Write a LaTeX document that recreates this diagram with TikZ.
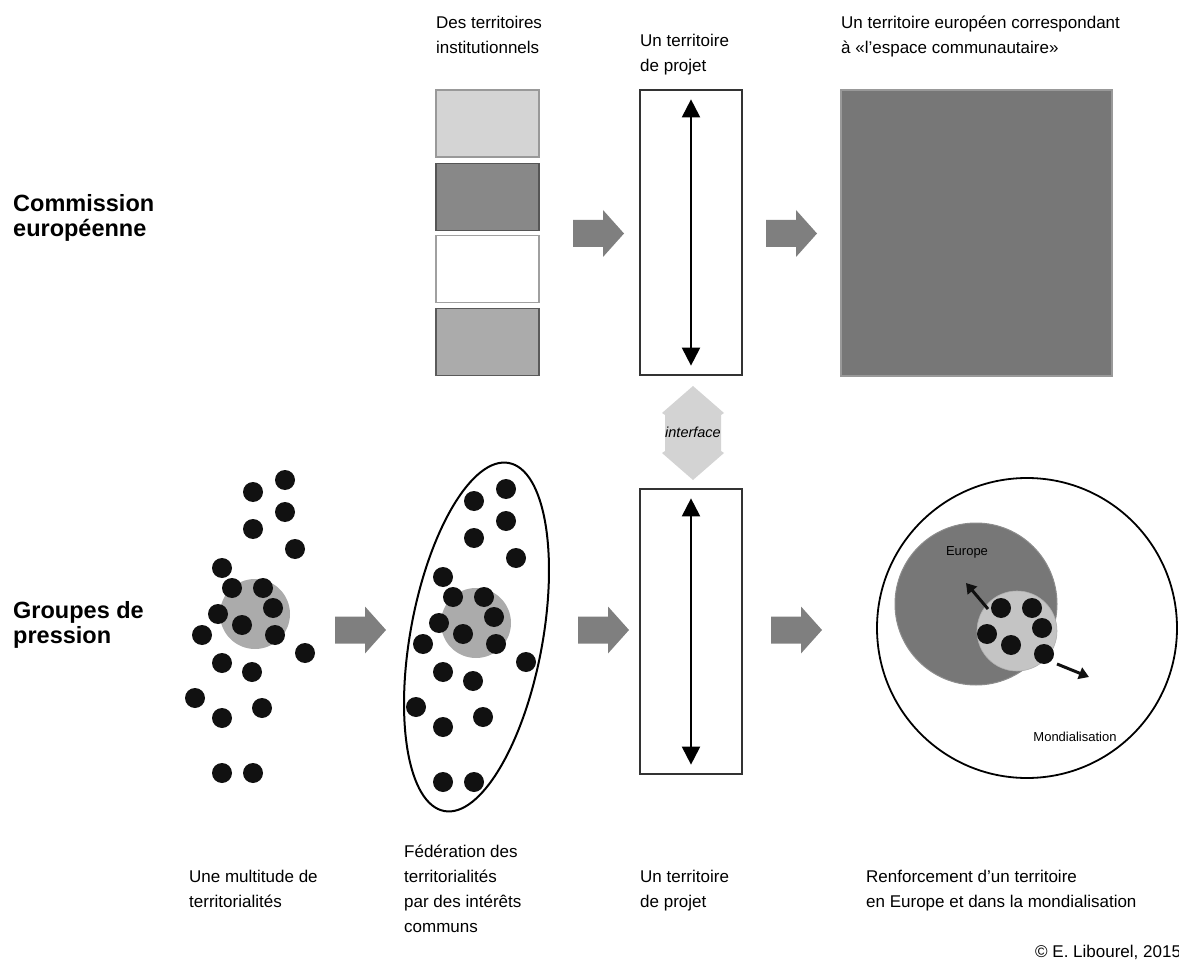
\documentclass[tikz,border=0pt]{standalone}
\usepackage{fontspec}
\setmainfont{Liberation Sans}
\usetikzlibrary{arrows.meta}
\definecolor{boxA}{HTML}{D4D4D4}
\definecolor{boxAd}{HTML}{999999}
\definecolor{boxB}{HTML}{888888}
\definecolor{boxBd}{HTML}{555555}
\definecolor{boxCd}{HTML}{A0A0A0}
\definecolor{boxD}{HTML}{ABABAB}
\definecolor{boxDd}{HTML}{5A5A5A}
\definecolor{bigsq}{HTML}{777777}
\definecolor{bigsqd}{HTML}{999999}
\definecolor{arrowgray}{HTML}{7F7F7F}
\definecolor{ifacegray}{HTML}{D3D3D3}
\definecolor{dotc}{HTML}{111111}
\definecolor{clustergray}{HTML}{ABABAB}
\definecolor{europegray}{HTML}{777777}
\definecolor{europeborder}{HTML}{8C8C8C}
\definecolor{lightgray2}{HTML}{C4C4C4}
\newcommand\mlines[1]{\begin{tabular}[t]{@{}l@{}}#1\end{tabular}}
\begin{document}
\begin{tikzpicture}[x=1pt,y=-1pt,
  txt/.style={anchor=base west, inner sep=0pt, font=\fontsize{17}{25}\selectfont},
  headlbl/.style={anchor=base west, inner sep=0pt, font=\fontsize{23.5}{25}\selectfont\bfseries},
  smalllbl/.style={inner sep=0pt, font=\fontsize{13}{15}\selectfont},
  instbox/.style={rectangle, minimum width=103pt, minimum height=67pt, inner sep=0pt, line width=1.3pt},
  projbox/.style={rectangle, draw=black!80, line width=1.3pt, fill=white, minimum width=102pt, minimum height=285pt, inner sep=0pt},
  projarrow/.style={line width=2pt, {Triangle[width=18pt,length=18pt]}-{Triangle[width=18pt,length=18pt]}},
  dotstyle/.style={fill=dotc},
  smallarrow/.style={line width=3pt, -{Triangle[width=12pt,length=10pt]}, dotc},
  barrow/.pic={\fill[arrowgray] (0,-13.5) -- (30,-13.5) -- (30,-23.5) -- (51,0) -- (30,23.5) -- (30,13.5) -- (0,13.5) -- cycle;}
]
\useasboundingbox (0,0) rectangle (1179,960);

% ---------- row labels ----------
\node[headlbl] (lblC) at (13,212) {\mlines{Commission\\européenne}};
\node[headlbl] (lblG) at (13,618) {\mlines{Groupes de\\pression}};

% ---------- top texts ----------
\node[txt] (tInst) at (436,29) {\mlines{Des territoires\\institutionnels}};
\node[txt] (tProjT) at (640,47) {\mlines{Un territoire\\de projet}};
\node[txt] (tEur) at (841,29) {\mlines{Un territoire européen correspondant\\à «l’espace communautaire»}};

% ---------- institutional boxes ----------
\node[instbox, fill=boxA, draw=boxAd] (b1) at (487.5,123.5) {};
\node[instbox, fill=boxB, draw=boxBd] (b2) at (487.5,197) {};
\node[instbox, fill=white, draw=boxCd] (b3) at (487.5,269) {};
\node[instbox, fill=boxD, draw=boxDd] (b4) at (487.5,342) {};

% ---------- project rectangles ----------
\node[projbox] (projT) at (691,232.5) {};
\draw[projarrow] ([yshift=-10pt]projT.north) -- ([yshift=10pt]projT.south);
\node[projbox] (projB) at (691,631.5) {};
\draw[projarrow] ([yshift=-10pt]projB.north) -- ([yshift=10pt]projB.south);

% ---------- european square ----------
\node[rectangle, fill=bigsq, draw=bigsqd, line width=1.3pt, minimum width=271pt, minimum height=286pt, inner sep=0pt] (sq) at (976.5,233) {};

% ---------- block arrows ----------
\pic at (573,233.5) {barrow};
\pic at (766,233.5) {barrow};
\pic at (335,630) {barrow};
\pic at (578,630) {barrow};
\pic at (771,630) {barrow};

% ---------- interface ----------
\fill[ifacegray] (693,386) -- (724,413) -- (721,415) -- (721,451) -- (724,453) -- (693,480)
  -- (662,453) -- (665,451) -- (665,415) -- (662,413) -- cycle;
\node[smalllbl, font=\fontsize{14.5}{17}\selectfont\itshape] (iface) at (693,432) {interface};

% ---------- clusters ----------
\def\dotlist{253/492, 285/480, 285/512, 253/529, 295/549, 222/568, 232/588, 263/588,
  273/608, 218/614, 242/625, 275/635, 202/635, 305/653, 222/663, 252/672, 195/698,
  262/708, 222/718, 222/773, 253/773}
\fill[clustergray] (255,614) circle[radius=35];
\foreach \px/\py in \dotlist { \fill[dotstyle] (\px,\py) circle[radius=10]; }

\begin{scope}[shift={(221,9)}]
\fill[clustergray] (255,614) circle[radius=35];
\foreach \px/\py in \dotlist { \fill[dotstyle] (\px,\py) circle[radius=10]; }
\end{scope}
\begin{scope}[shift={(476.5,637)}, rotate=-10.5]
\draw[line width=2pt] (0,0) ellipse[x radius=66, y radius=177];
\end{scope}

% ---------- Europe / Mondialisation ----------
\draw[line width=1.8pt] (1027,628) circle[radius=150];
\filldraw[fill=europegray, draw=europeborder, line width=1pt] (976,604) circle[radius=81];
\filldraw[fill=lightgray2, draw=lightgray2!90!black, line width=0.6pt] (1017,631) circle[radius=40];
\foreach \px/\py in {1001/608, 1032/608, 1042/628, 987/634, 1011/645, 1044/654}
  { \fill[dotstyle] (\px,\py) circle[radius=10]; }
\coordinate (a1s) at (988,609);
\coordinate (a1e) at (966,583);
\coordinate (a2s) at (1057,664);
\coordinate (a2e) at (1089,677);
\draw[smallarrow] (a1s) -- (a1e);
\draw[smallarrow] (a2s) -- (a2e);
\node[smalllbl] (lEurope) at (967,552) {Europe};
\node[smalllbl] (lMond) at (1075,737) {Mondialisation};

% ---------- bottom texts ----------
\node[txt] (tMult) at (189,882) {\mlines{Une multitude de\\territorialités}};
\node[txt] (tFed) at (404,857) {\mlines{Fédération des\\territorialités\\par des intérêts\\communs}};
\node[txt] (tProjB) at (640,882) {\mlines{Un territoire\\de projet}};
\node[txt] (tRenf) at (866,882) {\mlines{Renforcement d’un territoire\\en Europe et dans la mondialisation}};
\node[txt] (copy) at (1035,957) {© E. Libourel, 2015};
\end{tikzpicture}
\end{document}
